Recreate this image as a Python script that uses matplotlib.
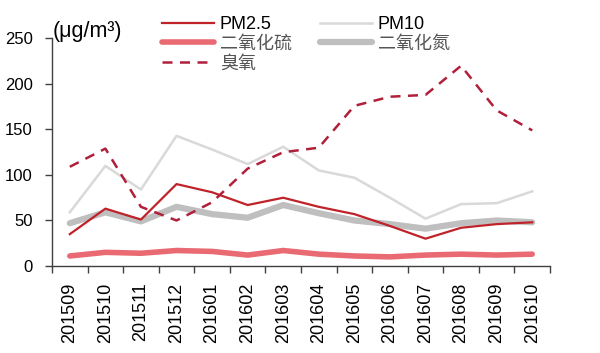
import matplotlib
matplotlib.use('Agg')
import matplotlib.pyplot as plt
from matplotlib.ticker import FixedLocator, NullFormatter

plt.rcParams['font.family'] = ['Liberation Sans', 'Noto Sans CJK SC']

months = ['201509', '201510', '201511', '201512', '201601', '201602', '201603',
          '201604', '201605', '201606', '201607', '201608', '201609', '201610']
pm25 = [35, 63, 51, 90, 81, 67, 75, 65, 57, 44, 30, 42, 46, 48]
pm10 = [59, 110, 84, 143, 128, 112, 131, 105, 97, 75, 52, 68, 69, 82]
so2 = [11, 15, 14, 17, 16, 12, 17, 13, 11, 10, 12, 13, 12, 13]
no2 = [47, 59, 49, 65, 57, 53, 67, 58, 50, 46, 41, 47, 50, 48]
o3 = [109, 129, 65, 50, 70, 107, 125, 130, 176, 186, 188, 220, 171, 149]

x = list(range(len(months)))

fig = plt.figure(figsize=(6, 3.53), dpi=100)
ax = fig.add_axes([0.0867, 0.2465, 0.83, 0.6445])

l_no2, = ax.plot(x, no2, color='#bfbfbf', lw=4.5, solid_capstyle='round', label='二氧化氮')
l_so2, = ax.plot(x, so2, color='#e96a72', lw=4, solid_capstyle='round', label='二氧化硫')
l_pm10, = ax.plot(x, pm10, color='#d9d9d9', lw=1.8, label='PM10')
l_pm25, = ax.plot(x, pm25, color='#c0222a', lw=1.6, label='PM2.5')
l_o3, = ax.plot(x, o3, color='#b0203a', lw=1.8, dashes=(4, 3), label='臭氧')

ax.set_xlim(-0.5, len(months) - 0.5)
ax.set_ylim(0, 250)
ax.set_yticks([0, 50, 100, 150, 200, 250])

ax.xaxis.set_major_locator(FixedLocator([i - 0.5 for i in range(len(months) + 1)]))
ax.xaxis.set_major_formatter(NullFormatter())
ax.xaxis.set_minor_locator(FixedLocator(x))
ax.set_xticklabels(months, minor=True, rotation=90, fontsize=13)
ax.tick_params(axis='x', which='major', direction='out', length=5, width=1, color='#404040')
ax.tick_params(axis='x', which='minor', length=0, pad=12)
ax.tick_params(axis='y', direction='out', length=5, width=1, color='#404040', pad=9, labelsize=12)

for s in ['top', 'right']:
    ax.spines[s].set_visible(False)
for s in ['left', 'bottom']:
    ax.spines[s].set_color('#404040')
    ax.spines[s].set_linewidth(1)

fig.text(53 / 600, 1 - 31 / 353, '(μg/m³)', fontsize=15.5, ha='left', va='center')

handles = [l_pm25, l_so2, l_o3, l_pm10, l_no2]
leg = fig.legend(handles, [h.get_label() for h in handles], ncol=2,
                 loc='upper left', bbox_to_anchor=(162 / 600, 1 - 16 / 353),
                 frameon=False, fontsize=13, handlelength=2.9, handletextpad=0.3,
                 columnspacing=1.55, labelspacing=0.15, borderpad=0, borderaxespad=0)
for t in leg.get_texts():
    if t.get_text().startswith('PM'):
        t.set_color('black')
    else:
        t.set_color('#555555')

fig.savefig('out.png', dpi=100)
